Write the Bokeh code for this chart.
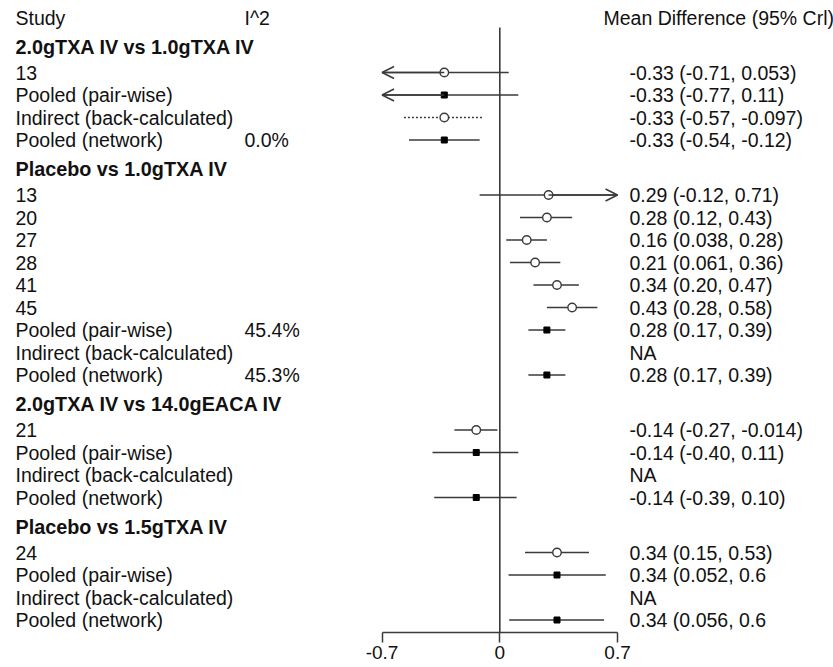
from bokeh.plotting import figure
from bokeh.models import Range1d, ColumnDataSource, FixedTicker, Arrow, OpenHead
from bokeh.core.properties import value
from bokeh.embed import file_html
from bokeh.resources import INLINE

# ---------------- data ----------------
col_headers = ["Study", "I^2", "Mean Difference (95% Crl)"]
group_titles = ["2.0gTXA IV vs 1.0gTXA IV", "Placebo vs 1.0gTXA IV",
                "2.0gTXA IV vs 14.0gEACA IV", "Placebo vs 1.5gTXA IV"]

g1_labels = ["13", "Pooled (pair-wise)", "Indirect (back-calculated)", "Pooled (network)"]
g1_kind = ["study", "pooled", "indirect", "network"]
g1_mean = [-0.33, -0.33, -0.33, -0.33]
g1_lo = [-0.71, -0.77, -0.57, -0.54]
g1_hi = [0.053, 0.11, -0.097, -0.12]
g1_i2 = ["", "", "", "0.0%"]
g1_txt = ["-0.33 (-0.71, 0.053)", "-0.33 (-0.77, 0.11)", "-0.33 (-0.57, -0.097)", "-0.33 (-0.54, -0.12)"]

g2_labels = ["13", "20", "27", "28", "41", "45", "Pooled (pair-wise)",
             "Indirect (back-calculated)", "Pooled (network)"]
g2_kind = ["study"] * 6 + ["pooled", "indirect", "network"]
g2_mean = [0.29, 0.28, 0.16, 0.21, 0.34, 0.43, 0.28, None, 0.28]
g2_lo = [-0.12, 0.12, 0.038, 0.061, 0.20, 0.28, 0.17, None, 0.17]
g2_hi = [0.71, 0.43, 0.28, 0.36, 0.47, 0.58, 0.39, None, 0.39]
g2_i2 = ["", "", "", "", "", "", "45.4%", "", "45.3%"]
g2_txt = ["0.29 (-0.12, 0.71)", "0.28 (0.12, 0.43)", "0.16 (0.038, 0.28)", "0.21 (0.061, 0.36)",
          "0.34 (0.20, 0.47)", "0.43 (0.28, 0.58)", "0.28 (0.17, 0.39)", "NA", "0.28 (0.17, 0.39)"]

g3_labels = ["21", "Pooled (pair-wise)", "Indirect (back-calculated)", "Pooled (network)"]
g3_kind = ["study", "pooled", "indirect", "network"]
g3_mean = [-0.14, -0.14, None, -0.14]
g3_lo = [-0.27, -0.40, None, -0.39]
g3_hi = [-0.014, 0.11, None, 0.10]
g3_i2 = ["", "", "", ""]
g3_txt = ["-0.14 (-0.27, -0.014)", "-0.14 (-0.40, 0.11)", "NA", "-0.14 (-0.39, 0.10)"]

g4_labels = ["24", "Pooled (pair-wise)", "Indirect (back-calculated)", "Pooled (network)"]
g4_kind = ["study", "pooled", "indirect", "network"]
g4_mean = [0.34, 0.34, None, 0.34]
g4_lo = [0.15, 0.052, None, 0.056]
g4_hi = [0.53, 0.63, None, 0.62]
g4_i2 = ["", "", "", ""]
g4_txt = ["0.34 (0.15, 0.53)", "0.34 (0.052, 0.6", "NA", "0.34 (0.056, 0.6"]

axis_ticks = [-0.7, 0, 0.7]
axis_labels = ["-0.7", "0", "0.7"]
clip_lo, clip_hi = -0.7, 0.7

# ---------------- layout (page pixel rows) ----------------
Y_TITLE = 17.0
GAP_HEAD = 29.0
GAP_FIRST = 26.0
ROW = 22.5
X_STUDY, X_I2, X_TXT, X_MDHEAD = 15, 244, 629, 603
W, H = 833, 667
Y_BOTTOM = 632.0

groups = [
    (g1_labels, g1_kind, g1_mean, g1_lo, g1_hi, g1_i2, g1_txt),
    (g2_labels, g2_kind, g2_mean, g2_lo, g2_hi, g2_i2, g2_txt),
    (g3_labels, g3_kind, g3_mean, g3_lo, g3_hi, g3_i2, g3_txt),
    (g4_labels, g4_kind, g4_mean, g4_lo, g4_hi, g4_i2, g4_txt),
]

head_y, head_txt = [], []
rows = dict(y=[], label=[], kind=[], mean=[], lo=[], hi=[], i2=[], txt=[])
y = Y_TITLE
for title, (labs, kinds, means, los, his, i2s, txts) in zip(group_titles, groups):
    y += GAP_HEAD
    head_y.append(y)
    head_txt.append(title)
    for i in range(len(labs)):
        y += GAP_FIRST if i == 0 else ROW
        rows["y"].append(y)
        rows["label"].append(labs[i])
        rows["kind"].append(kinds[i])
        rows["mean"].append(means[i])
        rows["lo"].append(los[i])
        rows["hi"].append(his[i])
        rows["i2"].append(i2s[i])
        rows["txt"].append(txts[i])

# x scale: 0 at page px 499.3, 168.2 px per unit
X0_PX, PX_PER = 499.3, 168.2
p = figure(width=W, height=H, output_backend="svg", toolbar_location=None,
           x_range=Range1d((0 - X0_PX) / PX_PER, (W - X0_PX) / PX_PER),
           y_range=Range1d(Y_BOTTOM, 0),
           y_axis_location=None, min_border_left=0, min_border_right=0,
           min_border_top=0, min_border_bottom=int(H - Y_BOTTOM))
p.extra_x_ranges = {"px": Range1d(0, W)}
p.xgrid.visible = False
p.ygrid.visible = False
p.outline_line_color = None

FONT = value("Liberation Sans")
FS = "19.5px"
TC = "#111111"
LC = "#3a3a3a"

# zero line
p.segment(x0=[0], y0=[Y_TITLE + 10], x1=[0], y1=[Y_BOTTOM], line_color=LC, line_width=1.6)

# text columns
text_src = ColumnDataSource(dict(y=rows["y"], label=rows["label"], i2=rows["i2"], txt=rows["txt"]))
common = dict(x_range_name="px", text_font=FONT, text_font_size=FS, text_baseline="middle",
              text_align="left", text_color=TC)
p.text(x=X_STUDY, y="y", text="label", source=text_src, **common)
p.text(x=X_I2, y="y", text="i2", source=text_src, **common)
p.text(x=X_TXT, y="y", text="txt", source=text_src, **common)
bold = dict(common)
bold["text_font_size"] = "19.8px"
p.text(x=X_STUDY, y=head_y, text=head_txt, text_font_style="bold", **bold)
p.text(x=[X_STUDY, X_I2, X_MDHEAD], y=[Y_TITLE] * 3, text=col_headers, **common)

# CI lines and points
seg = dict(x0=[], x1=[], y=[])
dot = dict(x0=[], x1=[], y=[])
circ = dict(x=[], y=[])
sq = dict(x=[], y=[])
arr = dict(xs=[], xe=[], y=[])
for yy, k, m, lo, hi in zip(rows["y"], rows["kind"], rows["mean"], rows["lo"], rows["hi"]):
    if m is None:
        continue
    target = dot if k == "indirect" else seg
    target["x0"].append(max(lo, clip_lo))
    target["x1"].append(min(hi, clip_hi))
    target["y"].append(yy)
    if lo < clip_lo:
        arr["xs"].append(m); arr["xe"].append(clip_lo); arr["y"].append(yy)
    if hi > clip_hi:
        arr["xs"].append(m); arr["xe"].append(clip_hi); arr["y"].append(yy)
    if k in ("study", "indirect"):
        circ["x"].append(m); circ["y"].append(yy)
    else:
        sq["x"].append(m); sq["y"].append(yy)

p.segment(x0="x0", y0="y", x1="x1", y1="y", source=ColumnDataSource(seg), line_color=LC, line_width=1.5)
p.segment(x0="x0", y0="y", x1="x1", y1="y", source=ColumnDataSource(dot), line_color=LC,
          line_width=1.5, line_dash="2 2")
arrow_src = ColumnDataSource(arr)
p.add_layout(Arrow(end=OpenHead(size=12, line_color=LC, line_width=1.5), x_start="xs", y_start="y",
                   x_end="xe", y_end="y", source=arrow_src, line_color=LC, line_width=1.5))
p.scatter(x="x", y="y", source=ColumnDataSource(circ), marker="circle", size=8.5,
          fill_color="white", line_color=LC, line_width=1.4)
p.scatter(x="x", y="y", source=ColumnDataSource(sq), marker="square", size=6,
          fill_color="black", line_color="black")

# axis
ax = p.xaxis[0]
ax.ticker = FixedTicker(ticks=axis_ticks)
ax.bounds = (axis_ticks[0], axis_ticks[-1])
ax.major_label_overrides = {t: l for t, l in zip(axis_ticks, axis_labels)}
ax.minor_tick_line_color = None
ax.major_tick_in = 0
ax.major_tick_out = 10
ax.major_label_standoff = 3
ax.axis_line_color = LC
ax.axis_line_width = 1.5
ax.major_tick_line_color = LC
ax.major_tick_line_width = 1.5
ax.major_label_text_font = "Liberation Sans"
ax.major_label_text_font_size = "19px"
ax.major_label_text_color = TC

open("out.html", "w").write(file_html(p, INLINE))
